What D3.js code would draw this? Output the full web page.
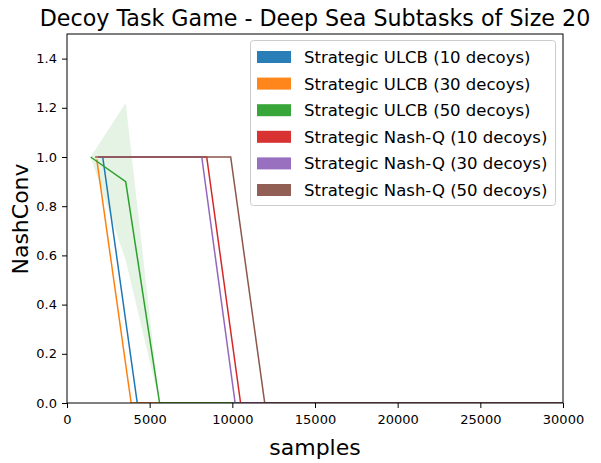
<!DOCTYPE html>
<html><head><meta charset="utf-8">
<script src="https://cdn.jsdelivr.net/npm/d3@7"></script>
<style>body{margin:0;background:#fff;} svg{display:block;font-family:"DejaVu Sans",sans-serif;}</style>
</head><body>
<svg id="chart" width="601" height="463"></svg>
<script>
const seriesNames = ["Strategic ULCB (10 decoys)","Strategic ULCB (30 decoys)","Strategic ULCB (50 decoys)","Strategic Nash-Q (10 decoys)","Strategic Nash-Q (30 decoys)","Strategic Nash-Q (50 decoys)"];
const colors = ["#1f77b4","#ff7f0e","#2ca02c","#d62728","#9467bd","#8c564b"];
const ulcb10X = [2160, 4250, 30000];
const ulcb10Y = [1.0, 0.0, 0.0];
const ulcb30X = [1800, 3880, 30000];
const ulcb30Y = [0.99, 0.0, 0.0];
const ulcb50X = [1430, 3550, 5600, 30000];
const ulcb50Y = [1.0, 0.9, 0.0, 0.0];
const ulcb50Lo = [1.0, 0.58, 0.0, 0.0];
const ulcb50Hi = [1.0, 1.22, 0.0, 0.0];
const nash10X = [1900, 8450, 10500, 30000];
const nash10Y = [1.0, 1.0, 0.0, 0.0];
const nash30X = [1900, 8150, 10170, 30000];
const nash30Y = [1.0, 1.0, 0.0, 0.0];
const nash50X = [1700, 9900, 11960, 30000];
const nash50Y = [1.0, 1.0, 0.0, 0.0];
const xTicks = [0, 5000, 10000, 15000, 20000, 25000, 30000];
const yTicks = [0.0, 0.2, 0.4, 0.6, 0.8, 1.0, 1.2, 1.4];

const series = [
  {x: ulcb10X, y: ulcb10Y},
  {x: ulcb30X, y: ulcb30Y},
  {x: ulcb50X, y: ulcb50Y, lo: ulcb50Lo, hi: ulcb50Hi},
  {x: nash10X, y: nash10Y},
  {x: nash30X, y: nash30Y},
  {x: nash50X, y: nash50Y}
];

const svg = d3.select("#chart");
const L = 67, R = 563, T = 34, B = 403;
const x = d3.scaleLinear().domain([0, 30000]).range([L, R]);
const y = d3.scaleLinear().domain([0, 1.5]).range([B, T]);

svg.append("defs").append("clipPath").attr("id","clip")
  .append("rect").attr("x",L).attr("y",T).attr("width",R-L).attr("height",B-T);

const plot = svg.append("g").attr("clip-path","url(#clip)");

// bands
series.forEach((s,i)=>{
  if(!s.lo) return;
  const pts = s.x.map((d,j)=>({x:d, lo:s.lo[j], hi:s.hi[j]}));
  plot.append("path").datum(pts)
    .attr("d", d3.area().x(d=>x(d.x)).y0(d=>y(d.lo)).y1(d=>y(d.hi)))
    .attr("fill", colors[i]).attr("fill-opacity", 0.13).attr("stroke","none");
});

// lines
series.forEach((s,i)=>{
  const pts = s.x.map((d,j)=>({x:d, y:s.y[j]}));
  plot.append("path").datum(pts)
    .attr("d", d3.line().x(d=>x(d.x)).y(d=>y(d.y)))
    .attr("fill","none").attr("stroke", colors[i]).attr("stroke-width", 1.5);
});

// axes
const xAxis = svg.append("g").attr("transform",`translate(0,${B})`)
  .call(d3.axisBottom(x).tickValues(xTicks).tickFormat(d3.format("d")).tickSizeOuter(0).tickSize(5).tickPadding(7));
const yAxis = svg.append("g").attr("transform",`translate(${L},0)`)
  .call(d3.axisLeft(y).tickValues(yTicks).tickFormat(d3.format(".1f")).tickSizeOuter(0).tickSize(5).tickPadding(5));
[xAxis,yAxis].forEach(a=>{
  a.selectAll("text").attr("font-family","DejaVu Sans").attr("font-size",13).attr("fill","#000");
  a.selectAll("line").attr("stroke","#000").attr("stroke-width",1);
  a.select(".domain").remove();
});
svg.append("rect").attr("x",L).attr("y",T).attr("width",R-L).attr("height",B-T)
  .attr("fill","none").attr("stroke","#000").attr("stroke-width",1);

// labels
svg.append("text").attr("x",(L+R)/2).attr("y",26).attr("text-anchor","middle")
  .attr("font-size",22.2).text("Decoy Task Game - Deep Sea Subtasks of Size 20");
svg.append("text").attr("x",(L+R)/2).attr("y",455).attr("text-anchor","middle")
  .attr("font-size",22).text("samples");
svg.append("text").attr("transform","translate(28,219) rotate(-90)").attr("text-anchor","middle")
  .attr("font-size",22).text("NashConv");

// legend
const lg = svg.append("g");
lg.append("rect").attr("x",250.5).attr("y",40.5).attr("width",305).attr("height",165).attr("rx",3)
  .attr("fill","#fff").attr("fill-opacity",0.8).attr("stroke","#ccc").attr("stroke-width",1);
seriesNames.forEach((n,i)=>{
  const cy = 57 + i*26.6;
  lg.append("rect").attr("x",257).attr("y",cy-6).attr("width",34).attr("height",12)
    .attr("fill",colors[i]).attr("fill-opacity",0.95);
  lg.append("text").attr("x",304).attr("y",cy+6).attr("font-size",16.5).text(n);
});
</script>
</body></html>
